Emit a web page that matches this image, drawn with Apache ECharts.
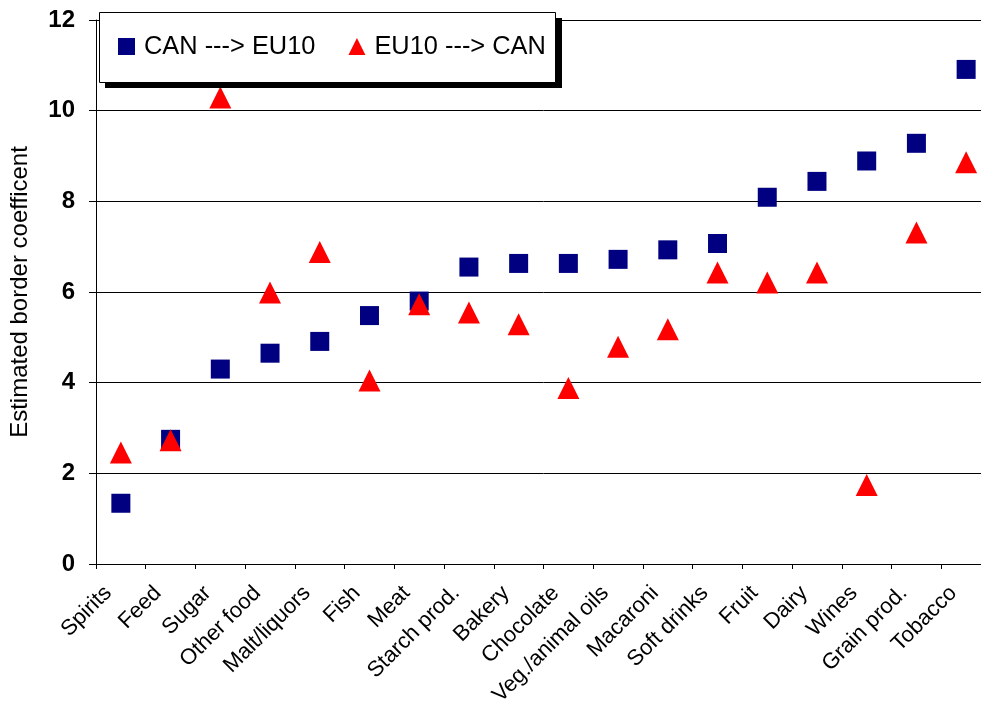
<!DOCTYPE html>
<html>
<head>
<meta charset="utf-8">
<script src="https://cdn.jsdelivr.net/npm/echarts@6/dist/echarts.min.js"></script>
<style>
html,body{margin:0;padding:0;background:#fff;overflow:hidden;}
#chart{width:991px;height:707px;}
</style>
</head>
<body>
<div id="chart"></div>
<script>
var categories = ["Spirits","Feed","Sugar","Other food","Malt/liquors","Fish","Meat","Starch prod.","Bakery","Chocolate","Veg./animal oils","Macaroni","Soft drinks","Fruit","Dairy","Wines","Grain prod.","Tobacco"];
var canToEu = [1.34,2.75,4.30,4.65,4.91,5.48,5.80,6.55,6.63,6.63,6.72,6.93,7.07,8.09,8.44,8.89,9.28,10.91];
var euToCan = [2.46,2.73,10.29,5.99,6.88,4.05,5.73,5.55,5.29,3.88,4.79,5.18,6.43,6.21,6.43,1.74,7.31,8.86];
var yTicks = [0,2,4,6,8,10,12];
var seriesNames = ["CAN ---> EU10","EU10 ---> CAN"];

var FONT = "'Liberation Sans', Arial, sans-serif";
var chart = echarts.init(document.getElementById('chart'), null, {renderer:'canvas'});
chart.setOption({
  animation:false,
  backgroundColor:'#fff',
  grid:{left:96, right:0, top:20, bottom:143, containLabel:false, outerBoundsMode:'none'},
  graphic:[
    {type:'rect', z:10, silent:true, shape:{x:105, y:18, width:457, height:70}, style:{fill:'#000'}},
    {type:'rect', z:11, silent:true, shape:{x:99.5, y:12.5, width:456, height:70}, style:{fill:'#fff', stroke:'#000', lineWidth:1}}
  ],
  legend:{
    left:99, top:12, z:20,
    orient:'horizontal',
    padding:[22,10,22,19],
    itemGap:33,
    itemWidth:17, itemHeight:17,
    textStyle:{fontFamily:FONT, fontSize:25.4, color:'#000', padding:[0,0,0,4]},
    data:seriesNames
  },
  xAxis:{
    type:'category',
    data:categories,
    boundaryGap:true,
    axisLine:{show:true, lineStyle:{color:'#000', width:1}},
    axisTick:{show:true, length:5, lineStyle:{color:'#000'}},
    axisLabel:{interval:0, rotate:45, fontFamily:FONT, fontSize:22, color:'#000', margin:13, padding:[0,18,0,0]},
    splitLine:{show:false}
  },
  yAxis:{
    type:'value',
    min:yTicks[0], max:yTicks[yTicks.length-1], interval:2,
    name:'Estimated border coefficent',
    nameLocation:'middle',
    nameRotate:90,
    nameGap:64,
    nameTextStyle:{fontFamily:FONT, fontSize:24, color:'#000'},
    axisLine:{show:true, lineStyle:{color:'#000', width:1}},
    axisTick:{show:true, length:7, lineStyle:{color:'#000'}},
    axisLabel:{fontFamily:FONT, fontSize:24, fontWeight:'bold', color:'#000', margin:21},
    splitLine:{show:true, lineStyle:{color:'#000', width:1}}
  },
  series:[
    {name:seriesNames[0], type:'scatter', data:canToEu, symbol:'rect', symbolSize:19,
     itemStyle:{color:'#000080', opacity:1}},
    {name:seriesNames[1], type:'scatter', data:euToCan, symbol:'triangle', symbolSize:[22,22],
     itemStyle:{color:'#ff0000', opacity:1}}
  ]
});
</script>
</body>
</html>
